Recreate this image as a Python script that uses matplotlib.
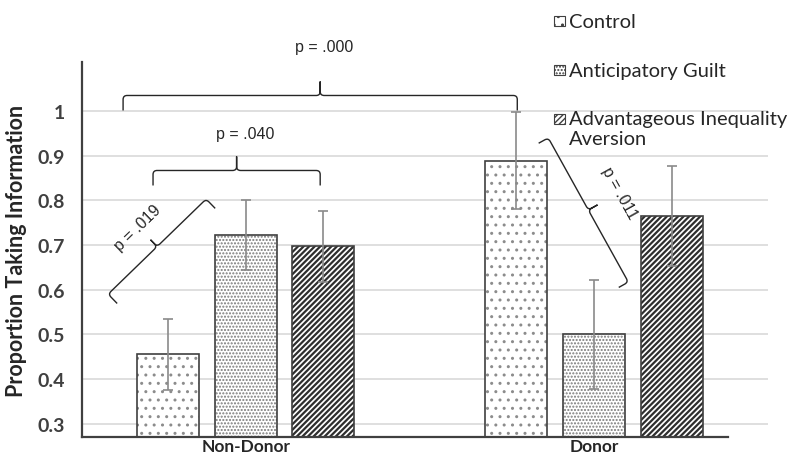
import matplotlib
matplotlib.use("Agg")
import matplotlib.pyplot as plt
import numpy as np
from matplotlib.path import Path
from matplotlib.patches import PathPatch, Rectangle
from matplotlib.transforms import IdentityTransform

groups = ["Non-Donor", "Donor"]
conditions = ["Control", "Anticipatory Guilt", "Advantageous Inequality\nAversion"]
control = [0.455, 0.889]
guilt = [0.722, 0.500]
aversion = [0.697, 0.765]
control_err = [0.080, 0.108]
guilt_err = [0.078, 0.122]
aversion_err = [0.080, 0.112]
yticks = [0.3, 0.4, 0.5, 0.6, 0.7, 0.8, 0.9, 1.0]
ytick_labels = ["0.3", "0.4", "0.5", "0.6", "0.7", "0.8", "0.9", "1"]

DARK = "#404040"

fig = plt.figure(figsize=(7.91, 4.56), dpi=100)
ax = fig.add_axes([82 / 791, 1 - 438 / 456, (768 - 82) / 791, (438 - 63) / 456])

x = np.arange(len(groups))
offset = 0.223
width = 0.178
# values, errors, hatch, hatch colour, hatch line width
series = [
    (control, control_err, "..", "#8c8c8c", 1.0),
    (guilt, guilt_err, ".....", "#7a7a7a", 1.0),
    (aversion, aversion_err, "//////", "#2e2e2e", 1.6),
]

for i, (vals, errs, hatch, hcol, hlw) in enumerate(series):
    pos = x + (i - 1) * offset
    with plt.rc_context({"hatch.linewidth": hlw}):
        # hatch fill first, then a plain outline on top
        ax.bar(pos, vals, width, color="white", edgecolor=hcol, hatch=hatch,
               linewidth=0, zorder=2)
    ax.bar(pos, vals, width, fill=False, edgecolor=DARK, linewidth=1.2, zorder=3)
    ax.errorbar(pos, vals, yerr=errs, fmt="none", ecolor="#8a8a8a", elinewidth=1.2,
                capsize=3.5, capthick=1.2, zorder=4)

ax.set_xlim(-0.47, 1.50)
ax.set_ylim(0.27, 1.11)
ax.set_yticks(yticks)
ax.set_yticklabels(ytick_labels)
ax.set_xticks(x)
ax.set_xticklabels(groups)
ax.yaxis.grid(True, color="#d9d9d9", linewidth=1.2, zorder=0)
ax.set_axisbelow(True)
for side in ["top", "right"]:
    ax.spines[side].set_visible(False)
for side in ["left", "bottom"]:
    ax.spines[side].set_color(DARK)
    ax.spines[side].set_linewidth(1.6)
ax.spines["bottom"].set_bounds(-0.47, 1.384)
ax.tick_params(axis="y", length=0, pad=12, labelsize=14, labelcolor=DARK)
ax.tick_params(axis="x", length=0, pad=0.5, labelsize=12.5, labelcolor="#262626")
for lab in ax.get_yticklabels() + ax.get_xticklabels():
    lab.set_fontfamily("Lato")
    lab.set_fontweight("bold")
ax.set_ylabel("Proportion Taking Information", fontsize=15.5, fontweight="bold",
              family="Lato", color="#262626", labelpad=8)


def brace(p0, p1, hook, tip, lw=1.0):
    # curly bracket between two data points; hook/tip lengths in pixels
    a = ax.transData.transform(p0)
    b = ax.transData.transform(p1)
    u = (b - a) / np.hypot(*(b - a))
    n = np.array([-u[1], u[0]])
    m = (a + b) / 2
    r = 4.0
    verts = [a - hook * n, a - r * n, a, a + r * u,
             m - r * u, m, m + r * n, m + tip * n,
             m + r * n, m, m + r * u,
             b - r * u, b, b - r * n, b - hook * n]
    codes = [Path.MOVETO, Path.LINETO, Path.CURVE3, Path.CURVE3,
             Path.LINETO, Path.CURVE3, Path.CURVE3, Path.LINETO,
             Path.LINETO, Path.CURVE3, Path.CURVE3,
             Path.LINETO, Path.CURVE3, Path.CURVE3, Path.LINETO]
    fig.patches.append(PathPatch(Path(verts, codes), transform=IdentityTransform(),
                                 fill=False, edgecolor="#262626", linewidth=lw,
                                 figure=fig))
    return np.degrees(np.arctan2(u[1], u[0]))


pfont = dict(family="Liberation Sans", fontsize=11.5, color="#262626",
             ha="center", va="center", rotation_mode="anchor")

brace((-0.352, 1.035), (0.780, 1.035), 15, 14)
ax.text(0.226, 1.144, "p = .000", **pfont)

brace((-0.266, 0.867), (0.214, 0.867), 15, 14)
ax.text(-0.001, 0.949, "p = .040", **pfont)

ang = brace((-0.395, 0.590), (-0.1135, 0.803), 13, 9.5)
ax.text(-0.309, 0.740, "p = .019", rotation=ang, **pfont)

ang = brace((0.869, 0.940), (1.099, 0.617), 11, 10.5)
ax.text(1.073, 0.819, "p = .011", rotation=ang, **pfont)

# legend drawn by hand at the top right
legend_y = [21.5, 71, 119.5]
for (vals, errs, hatch, hcol, hlw), label, ly in zip(series, conditions, legend_y):
    box = Rectangle((554 / 791, 1 - (ly + 5) / 456), 11 / 791, 10 / 456,
                    transform=fig.transFigure, facecolor="white", edgecolor=DARK,
                    hatch=hatch, linewidth=0.8)
    fig.patches.append(box)
    fig.text(569 / 791, 1 - (ly - 8) / 456, label, family="Lato", fontsize=14.5,
             color="#262626", ha="left", va="top", linespacing=1.2)

fig.savefig("out.png", dpi=100)
